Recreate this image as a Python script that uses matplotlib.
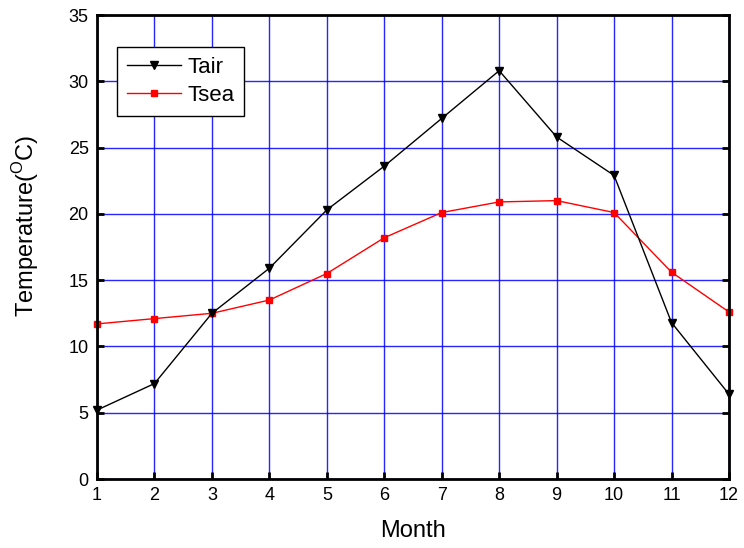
import matplotlib
matplotlib.use("Agg")
import matplotlib.pyplot as plt

months = list(range(1, 13))
t_air = [5.2, 7.2, 12.5, 15.9, 20.3, 23.6, 27.2, 30.8, 25.8, 22.9, 11.8, 6.4]
t_sea = [11.7, 12.1, 12.5, 13.5, 15.5, 18.2, 20.1, 20.9, 21.0, 20.1, 15.6, 12.6]

plt.rcParams['font.family'] = ['Liberation Sans', 'DejaVu Sans']
plt.rcParams['mathtext.fontset'] = 'custom'
plt.rcParams['mathtext.rm'] = 'Liberation Sans'

fig = plt.figure(figsize=(7.44, 5.48), dpi=100)
ax = fig.add_axes([0.1304, 0.1259, 0.8494, 0.8467])

ax.plot(months, t_air, color='black', linewidth=1, marker='v', markersize=6,
        label='Tair', clip_on=False, zorder=4)
ax.plot(months, t_sea, color='red', linewidth=1, marker='s', markersize=4.5,
        label='Tsea', clip_on=False, zorder=3)

ax.set_xlim(1, 12)
ax.set_ylim(0, 35)
ax.set_xticks(months)
ax.set_yticks(range(0, 36, 5))
ax.grid(color='#0000ff', linewidth=1, alpha=0.85)
ax.set_axisbelow(True)

for s in ax.spines.values():
    s.set_linewidth(2)
    s.set_color('black')
    s.set_zorder(5)

ax.tick_params(direction='in', length=5, width=2, labelsize=13,
               pad=6, right=True)

ax.set_xlabel('Month', fontsize=17, labelpad=11)
ax.set_ylabel('Temperature($^{\\mathrm{O}}$C)', fontsize=17)
ax.yaxis.set_label_coords(-0.088, 0.545)

leg = ax.legend(loc='upper left', bbox_to_anchor=(0.032, 0.931), borderaxespad=0,
                fontsize=16, fancybox=False, framealpha=1, edgecolor='black',
                handlelength=2.4, borderpad=0.45, labelspacing=0.3,
                handletextpad=0.3)
leg.get_frame().set_linewidth(1)

fig.savefig('out.png', dpi=100)
